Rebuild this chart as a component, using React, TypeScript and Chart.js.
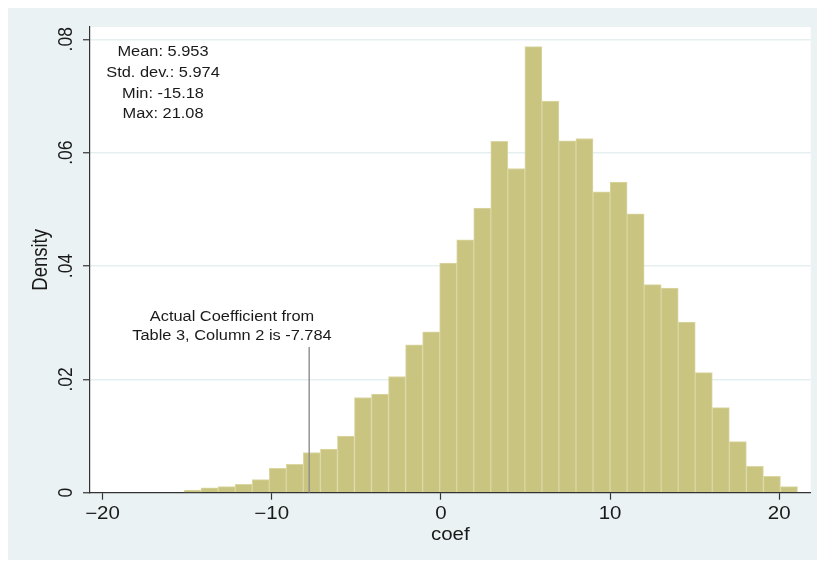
import React, { useEffect, useRef } from "react";
import { Chart, registerables } from "chart.js";
Chart.register(...registerables);

// Histogram bins (Stata-style density histogram of "coef")
const binStart = -15.18;
const binWidth = 1.00722;
const densities = [
  0.00047, 0.00088, 0.00106, 0.00148, 0.0023, 0.0043, 0.005, 0.0071, 0.0077, 0.01,
  0.0168, 0.0174, 0.0205, 0.0261, 0.0284, 0.0405, 0.0446, 0.0502, 0.062, 0.0572,
  0.0787, 0.0691, 0.0621, 0.0625, 0.0531, 0.0548, 0.0492, 0.0367, 0.0361, 0.0301,
  0.0212, 0.015, 0.009, 0.00466, 0.0029, 0.00106,
];
const xTicks = [-20, -10, 0, 10, 20];
const xTickLabels = ["\u221220", "\u221210", "0", "10", "20"];
const yTicks = [0, 0.02, 0.04, 0.06, 0.08];
const yTickLabels = ["0", ".02", ".04", ".06", ".08"];
const statsLines = ["Mean: 5.953", "Std. dev.: 5.974", "Min: -15.18", "Max: 21.08"];
const noteLines = ["Actual Coefficient from", "Table 3, Column 2 is -7.784"];
const actualCoef = -7.784;
const actualLineTop = 0.0257;
const xMin = -20.74;
const xMax = 21.86;
const yMax = 0.08217;

const FONT = '"Liberation Sans", Arial, Helvetica, sans-serif';
const BG = "#eaf2f3";
const TEXT = "#1a1a1a";
const STRETCH = 1.17;

export default function App() {
  const ref = useRef<HTMLCanvasElement | null>(null);

  useEffect(() => {
    document.documentElement.style.overflow = "hidden";
    const canvas = ref.current;
    if (!canvas) return;

    const barData = densities.map((d, i) => ({ x: binStart + (i + 0.5) * binWidth, y: d }));

    const hText = (ctx: any, t: string, x: number, y: number) => {
      ctx.save();
      ctx.translate(x, y);
      ctx.scale(STRETCH, 1);
      ctx.fillText(t, 0, 0);
      ctx.restore();
    };
    const vText = (ctx: any, t: string, x: number, y: number) => {
      ctx.save();
      ctx.translate(x, y);
      ctx.scale(STRETCH, 1);
      ctx.rotate(-Math.PI / 2);
      ctx.fillText(t, 0, 0);
      ctx.restore();
    };

    const deco = {
      id: "deco",
      beforeDraw(chart: any) {
        const { ctx, chartArea } = chart;
        ctx.save();
        ctx.fillStyle = BG;
        ctx.fillRect(0, 0, chart.width, chart.height);
        ctx.fillStyle = "#ffffff";
        ctx.fillRect(chartArea.left, chartArea.top, chartArea.right - chartArea.left, chartArea.bottom - chartArea.top);
        ctx.restore();
      },
      afterDraw(chart: any) {
        const { ctx, chartArea } = chart;
        const xs = chart.scales.x;
        const ys = chart.scales.y;
        ctx.save();
        ctx.fillStyle = TEXT;
        ctx.textAlign = "center";
        ctx.textBaseline = "alphabetic";
        // y tick labels, rotated
        ctx.font = `17.5px ${FONT}`;
        yTicks.forEach((v, i) => vText(ctx, yTickLabels[i], 64, ys.getPixelForValue(v)));
        // x tick labels
        xTicks.forEach((v, i) => hText(ctx, xTickLabels[i], xs.getPixelForValue(v), 510.5));
        // axis titles
        ctx.font = `18.5px ${FONT}`;
        vText(ctx, "Density", 38.5, (chartArea.top + chartArea.bottom) / 2);
        ctx.font = `17.5px ${FONT}`;
        hText(ctx, "coef", (chartArea.left + chartArea.right) / 2, 532);
        // stats box
        ctx.font = `14px ${FONT}`;
        const sb = [48, 69, 89.5, 110];
        statsLines.forEach((t, i) => hText(ctx, t, 155, sb[i]));
        // note
        const nb = [313, 332.3];
        noteLines.forEach((t, i) => hText(ctx, t, 224, nb[i]));
        ctx.restore();
      },
    };

    const chart = new Chart(canvas, {
      type: "bar",
      data: {
        datasets: [
          {
            type: "line",
            data: [
              { x: actualCoef, y: 0 },
              { x: actualCoef, y: actualLineTop },
            ],
            borderColor: "#8c8c8c",
            borderWidth: 1.4,
            pointRadius: 0,
            fill: false,
          } as any,
          {
            type: "bar",
            data: barData,
            backgroundColor: "rgb(201,196,128)",
            borderColor: "rgb(219,215,163)",
            borderWidth: 1,
            borderSkipped: "bottom",
            categoryPercentage: 1,
            barPercentage: 1,
          } as any,
        ],
      },
      options: {
        animation: false,
        responsive: false,
        devicePixelRatio: 1,
        layout: { padding: { left: 0, right: 6.3, top: 19, bottom: 0 } },
        plugins: { legend: { display: false }, tooltip: { enabled: false } },
        scales: {
          x: {
            type: "linear",
            min: xMin,
            max: xMax,
            offset: false,
            afterBuildTicks: (s: any) => {
              s.ticks = xTicks.map((v) => ({ value: v }));
            },
            afterFit: (s: any) => {
              s.height = 67.3;
            },
            grid: {
              display: true,
              offset: false,
              drawOnChartArea: false,
              drawTicks: true,
              tickLength: 7,
              tickColor: "#333",
              tickWidth: 1.2,
            },
            border: { display: true, color: "#333", width: 1.2 },
            ticks: { display: false },
          },
          y: {
            type: "linear",
            min: 0,
            max: yMax,
            afterBuildTicks: (s: any) => {
              s.ticks = yTicks.map((v) => ({ value: v }));
            },
            afterFit: (s: any) => {
              s.width = 82;
            },
            grid: {
              display: true,
              offset: false,
              drawOnChartArea: true,
              color: (c: any) => (c.tick && c.tick.value === 0 ? "rgba(0,0,0,0)" : "#e6eff0"),
              lineWidth: 1.5,
              drawTicks: true,
              tickLength: 7,
              tickColor: "#333",
              tickWidth: 1.2,
            },
            border: { display: true, color: "#333", width: 1.2 },
            ticks: { display: false },
          },
        },
      },
      plugins: [deco],
    } as any);

    return () => chart.destroy();
  }, []);

  return (
    <canvas
      ref={ref}
      width={809}
      height={552}
      style={{ display: "block", position: "fixed", left: 8, top: 8 }}
    />
  );
}
